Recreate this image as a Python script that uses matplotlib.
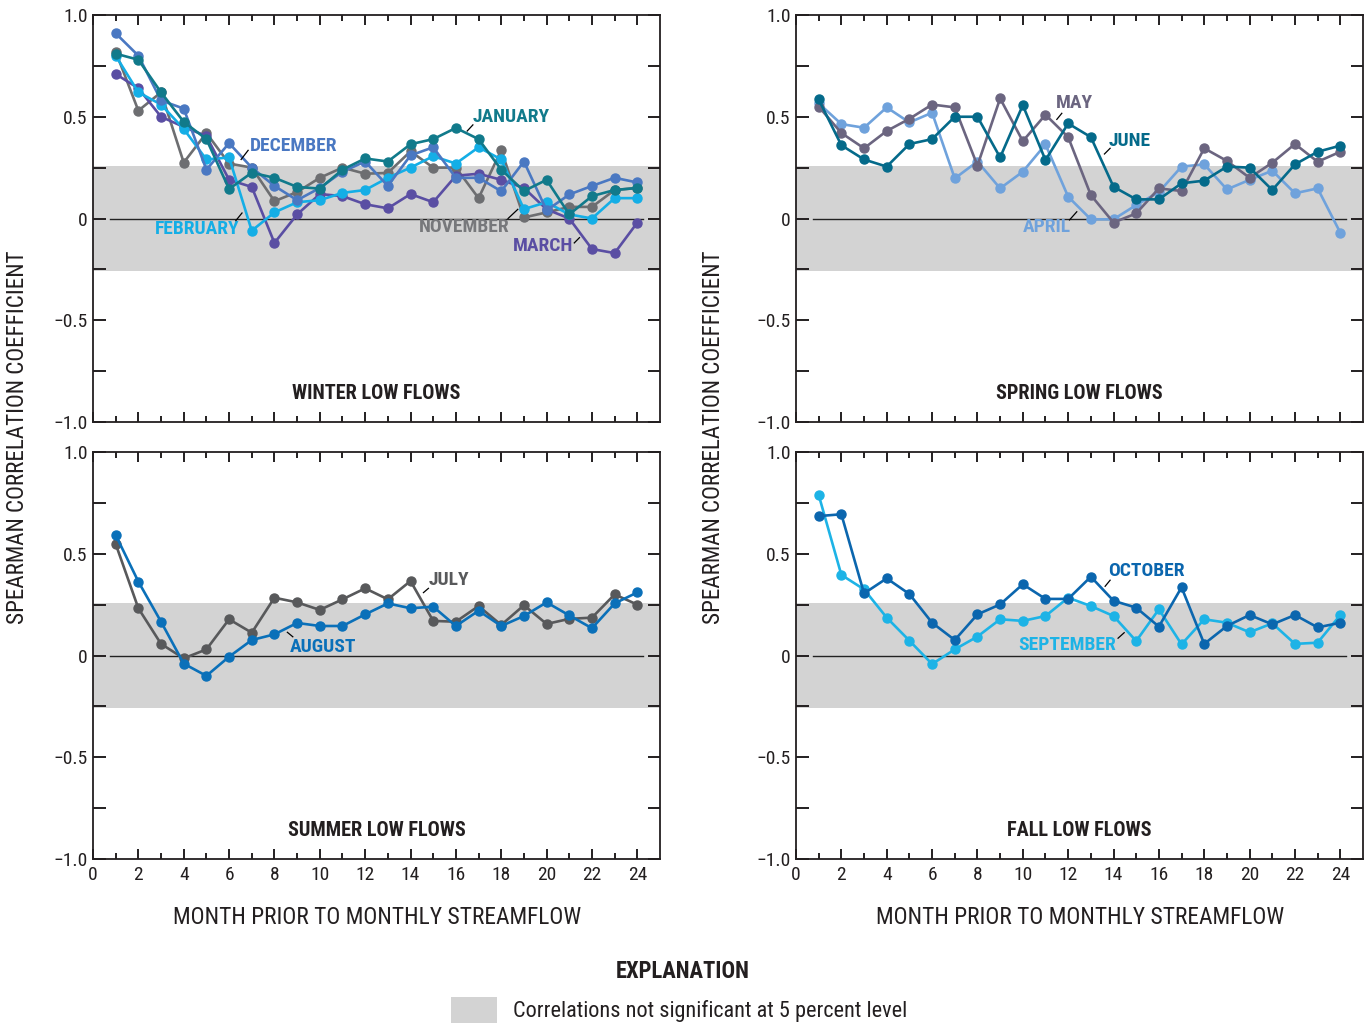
import numpy as np
import matplotlib
matplotlib.use('Agg')
import matplotlib.pyplot as plt
from matplotlib import font_manager
from matplotlib.patches import Rectangle

# months prior to streamflow
months = np.arange(1, 25)

# winter low flows
november = [0.82, 0.53, 0.62, 0.275, 0.42, 0.27, 0.25, 0.085, 0.13, 0.20, 0.25, 0.22,
            0.224, 0.33, 0.25, 0.25, 0.10, 0.336, 0.005, 0.03, 0.057, 0.057, 0.14, 0.15]
december = [0.91, 0.80, 0.58, 0.54, 0.24, 0.37, 0.25, 0.16, 0.09, 0.15, 0.23, 0.28,
            0.16, 0.31, 0.35, 0.20, 0.20, 0.134, 0.28, 0.04, 0.118, 0.16, 0.20, 0.177]
january = [0.81, 0.78, 0.62, 0.475, 0.39, 0.145, 0.225, 0.20, 0.155, 0.147, 0.24, 0.295,
           0.28, 0.365, 0.39, 0.445, 0.39, 0.24, 0.135, 0.19, 0.02, 0.11, 0.14, 0.15]
february = [0.80, 0.62, 0.56, 0.44, 0.29, 0.30, -0.06, 0.03, 0.08, 0.09, 0.126, 0.14,
            0.20, 0.25, 0.306, 0.27, 0.35, 0.29, 0.046, 0.08, 0.02, 0.0, 0.10, 0.10]
march = [0.71, 0.64, 0.50, 0.45, 0.405, 0.19, 0.155, -0.12, 0.02, 0.12, 0.11, 0.07,
         0.05, 0.12, 0.08, 0.21, 0.22, 0.19, 0.15, 0.045, 0.0, -0.15, -0.17, -0.02]

# spring low flows
april = [0.566, 0.464, 0.446, 0.546, 0.472, 0.52, 0.197, 0.28, 0.148, 0.23, 0.364, 0.107,
         -0.004, -0.004, 0.066, 0.13, 0.255, 0.266, 0.143, 0.19, 0.235, 0.124, 0.148, -0.07]
may = [0.55, 0.42, 0.345, 0.43, 0.49, 0.56, 0.546, 0.26, 0.59, 0.38, 0.51, 0.40,
       0.115, -0.02, 0.025, 0.148, 0.135, 0.345, 0.283, 0.20, 0.274, 0.366, 0.279, 0.328]
june = [0.585, 0.36, 0.29, 0.255, 0.366, 0.39, 0.50, 0.50, 0.30, 0.557, 0.287, 0.467,
        0.40, 0.156, 0.094, 0.094, 0.173, 0.186, 0.255, 0.25, 0.14, 0.266, 0.328, 0.358]

# summer low flows
july = [0.548, 0.232, 0.057, -0.014, 0.03, 0.178, 0.112, 0.284, 0.261, 0.224, 0.276, 0.33,
        0.276, 0.366, 0.17, 0.166, 0.243, 0.15, 0.247, 0.155, 0.18, 0.186, 0.30, 0.25]
august = [0.592, 0.363, 0.166, -0.04, -0.10, -0.006, 0.076, 0.104, 0.16, 0.145, 0.145, 0.202,
          0.256, 0.232, 0.24, 0.145, 0.22, 0.145, 0.194, 0.261, 0.197, 0.134, 0.256, 0.31]

# fall low flows
september = [0.789, 0.396, 0.325, 0.186, 0.073, -0.042, 0.03, 0.093, 0.178, 0.17, 0.194, 0.284,
             0.243, 0.194, 0.071, 0.227, 0.055, 0.178, 0.161, 0.114, 0.158, 0.057, 0.063, 0.199]
october = [0.685, 0.694, 0.305, 0.379, 0.302, 0.161, 0.076, 0.202, 0.251, 0.35, 0.278, 0.278,
           0.387, 0.269, 0.235, 0.142, 0.335, 0.057, 0.145, 0.199, 0.153, 0.199, 0.138, 0.161]

signif = 0.26

BAND = '#d3d3d3'
INK = '#231f20'


def pickFont():
    # look for a narrow sans, the original uses a condensed face
    entries = font_manager.fontManager.ttflist
    names = set(f.name for f in entries)
    for cand in ['Liberation Sans Narrow', 'Roboto Condensed', 'Open Sans Condensed',
                 'Noto Sans Condensed', 'DejaVu Sans Condensed']:
        if cand in names:
            return [cand, 'DejaVu Sans'], 'normal', 1.0
    for fam in ['DejaVu Sans', 'Noto Sans', 'Roboto', 'Open Sans']:
        for f in entries:
            if f.name == fam and str(f.stretch) in ('condensed', 'semi-condensed', '500', '600'):
                return [fam, 'DejaVu Sans'], 'condensed', 1.0
    return ['DejaVu Sans'], 'normal', 0.8


FAMILY, STRETCH, SCALE = pickFont()
plt.rcParams['font.family'] = FAMILY
plt.rcParams['font.stretch'] = STRETCH


def fs(size):
    return size * SCALE


def drawSeries(ax, values, color):
    ax.plot(months, values, color=color, lw=1.9, marker='o', ms=6.5,
            solid_joinstyle='miter', zorder=3)


def label(ax, text, color, txy, lxy0, lxy1, ha='left'):
    ax.text(txy[0], txy[1], text, color=color, fontsize=fs(14), fontweight='bold',
            ha=ha, va='center', zorder=5)
    ax.plot([lxy0[0], lxy1[0]], [lxy0[1], lxy1[1]], color='black', lw=0.9, zorder=5)


def setupAxes(ax, title, bottom):
    ax.set_xlim(0, 25)
    ax.set_ylim(-1, 1)
    ax.axhspan(-signif, signif, color=BAND, lw=0, zorder=0)
    ax.plot([0.75, 24.25], [0, 0], color='#222222', lw=1.0, zorder=1)

    ax.set_xticks(np.arange(0, 25, 2))
    ax.set_xticks(np.arange(1, 25, 2), minor=True)
    ax.set_yticks([-1, -0.5, 0, 0.5, 1])
    ax.set_yticks([-0.75, -0.25, 0.25, 0.75], minor=True)
    ax.set_yticklabels(['\u22121.0', '\u22120.5', '0', '0.5', '1.0'])
    ax.tick_params(axis='both', which='both', direction='in', top=True, right=True,
                   width=1.4, labelsize=fs(14), colors=INK)
    ax.tick_params(axis='x', which='major', length=7, pad=5)
    ax.tick_params(axis='x', which='minor', length=4)
    ax.tick_params(axis='y', which='both', length=9, pad=4)
    if not bottom:
        ax.tick_params(axis='x', labelbottom=False)
    for sp in ax.spines.values():
        sp.set_linewidth(1.3)
        sp.set_color(INK)
    ax.text(0.5, 0.07, title, transform=ax.transAxes, ha='center', va='center',
            fontsize=fs(14.6), fontweight='bold', color=INK)


def main():
    fig = plt.figure(figsize=(13.72, 10.26), dpi=100)
    W, H = 1372.0, 1026.0
    lefts = [93 / W, 796 / W]
    width = 567 / W
    height = 407 / H
    tops = [1 - 422 / H, 1 - 859 / H]

    axW = fig.add_axes([lefts[0], tops[0], width, height])
    axS = fig.add_axes([lefts[1], tops[0], width, height])
    axU = fig.add_axes([lefts[0], tops[1], width, height])
    axF = fig.add_axes([lefts[1], tops[1], width, height])

    setupAxes(axW, 'WINTER LOW FLOWS', False)
    setupAxes(axS, 'SPRING LOW FLOWS', False)
    setupAxes(axU, 'SUMMER LOW FLOWS', True)
    setupAxes(axF, 'FALL LOW FLOWS', True)

    # winter
    drawSeries(axW, november, '#6d6e71')
    drawSeries(axW, march, '#5a4ea3')
    drawSeries(axW, february, '#14aee6')
    drawSeries(axW, december, '#4a78c2')
    drawSeries(axW, january, '#117a8b')
    label(axW, 'JANUARY', '#117a8b', (16.76, 0.50), (16.5, 0.43), (16.75, 0.46))
    label(axW, 'DECEMBER', '#4a78c2', (6.93, 0.355), (6.53, 0.29), (6.84, 0.335))
    label(axW, 'FEBRUARY', '#14aee6', (6.48, -0.05), (6.3, -0.01), (6.57, 0.027), ha='right')
    label(axW, 'NOVEMBER', '#77787b', (18.35, -0.04), (18.3, 0.0), (18.73, 0.045), ha='right')
    label(axW, 'MARCH', '#5a4ea3', (21.17, -0.135), (21.22, -0.12), (21.45, -0.094), ha='right')

    # spring
    drawSeries(axS, april, '#6fa2dc')
    drawSeries(axS, may, '#6b6580')
    drawSeries(axS, june, '#046a8a')
    label(axS, 'MAY', '#6b6580', (11.47, 0.567), (11.5, 0.487), (11.72, 0.517))
    label(axS, 'JUNE', '#046a8a', (13.8, 0.38), (13.6, 0.317), (13.85, 0.345))
    label(axS, 'APRIL', '#6fa2dc', (12.1, -0.04), (12.06, -0.007), (12.38, 0.033), ha='right')

    # summer
    drawSeries(axU, july, '#58595b')
    drawSeries(axU, august, '#0a70b9')
    label(axU, 'JULY', '#58595b', (14.82, 0.371), (14.57, 0.309), (14.79, 0.33))
    label(axU, 'AUGUST', '#0a70b9', (8.69, 0.042), (8.57, 0.114), (8.81, 0.092))

    # fall
    drawSeries(axF, september, '#1db3e6')
    drawSeries(axF, october, '#0b66ae')
    label(axF, 'OCTOBER', '#0b66ae', (13.76, 0.415), (13.63, 0.34), (13.85, 0.37))
    label(axF, 'SEPTEMBER', '#1db3e6', (14.1, 0.052), (14.2, 0.085), (14.47, 0.112), ha='right')

    # axis titles
    for x in [18 / W, 713 / W]:
        fig.text(x, 1 - 437 / H, 'SPEARMAN CORRELATION COEFFICIENT', rotation=90,
                 ha='center', va='center', fontsize=fs(16.7), color=INK)
    for x in [377 / W, 1080 / W]:
        fig.text(x, 1 - 917 / H, 'MONTH PRIOR TO MONTHLY STREAMFLOW',
                 ha='center', va='center', fontsize=fs(16.8), color=INK)

    # explanation
    fig.text(683 / W, 1 - 971 / H, 'EXPLANATION', ha='center', va='center',
             fontsize=fs(16.3), fontweight='bold', color=INK)
    fig.patches.append(Rectangle((451 / W, 1 - 1023 / H), 46 / W, 26 / H,
                                 transform=fig.transFigure, color=BAND, lw=0))
    fig.text(513 / W, 1 - 1011 / H, 'Correlations not significant at 5 percent level',
             ha='left', va='center', fontsize=fs(16), color=INK)

    fig.savefig('out.png', dpi=100)


if __name__ == "__main__":
    main()
